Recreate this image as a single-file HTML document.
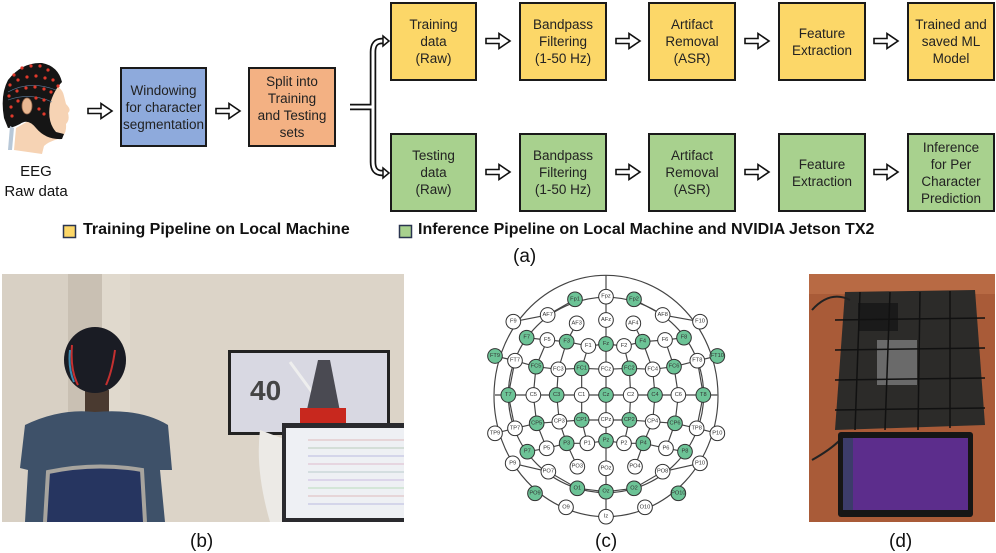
<!DOCTYPE html>
<html><head><meta charset="utf-8"><style>
body{margin:0;width:996px;height:552px;background:#fff;position:relative;overflow:hidden;font-family:"Liberation Sans",Arial,sans-serif;}
.b{position:absolute;border:2px solid #1a1a1a;box-sizing:border-box;display:flex;align-items:center;justify-content:center;text-align:center;font-size:13.5px;line-height:17px;color:#222;}
.y{background:#fcd768}.g{background:#a8d18e}
.t{position:absolute;white-space:nowrap;color:#111}
</style></head><body>

<div class="b" style="left:120px;top:67px;width:87px;height:80px;background:#8eaadc">Windowing<br>for character<br>segmentation</div>
<div class="b" style="left:248px;top:67px;width:88px;height:80px;background:#f3b183">Split into<br>Training<br>and Testing<br>sets</div>

<div class="b y" style="left:390px;top:2px;width:87px;height:79px">Training<br>data<br>(Raw)</div>
<div class="b y" style="left:519px;top:2px;width:88px;height:79px">Bandpass<br>Filtering<br>(1-50 Hz)</div>
<div class="b y" style="left:648px;top:2px;width:88px;height:79px">Artifact<br>Removal<br>(ASR)</div>
<div class="b y" style="left:778px;top:2px;width:88px;height:79px">Feature<br>Extraction</div>
<div class="b y" style="left:907px;top:2px;width:88px;height:79px">Trained and<br>saved ML<br>Model</div>

<div class="b g" style="left:390px;top:133px;width:87px;height:79px">Testing<br>data<br>(Raw)</div>
<div class="b g" style="left:519px;top:133px;width:88px;height:79px">Bandpass<br>Filtering<br>(1-50 Hz)</div>
<div class="b g" style="left:648px;top:133px;width:88px;height:79px">Artifact<br>Removal<br>(ASR)</div>
<div class="b g" style="left:778px;top:133px;width:88px;height:79px">Feature<br>Extraction</div>
<div class="b g" style="left:907px;top:133px;width:88px;height:79px">Inference<br>for Per<br>Character<br>Prediction</div>

<svg style="position:absolute;left:0;top:0" width="996" height="270">
<defs><path id="ar" d="M0,-2.5 h13 v-5 l11,7.5 l-11,7.5 v-5 h-13 z" fill="#fff" stroke="#111" stroke-width="1.6"/></defs>
<use href="#ar" x="88" y="111"/><use href="#ar" x="216" y="111"/>
<use href="#ar" x="486" y="41"/><use href="#ar" x="616" y="41"/><use href="#ar" x="745" y="41"/><use href="#ar" x="874" y="41"/>
<use href="#ar" x="486" y="172"/><use href="#ar" x="616" y="172"/><use href="#ar" x="745" y="172"/><use href="#ar" x="874" y="172"/>
<path d="M350,107 H373 M373,52 V162 M373,52 Q373,41 382,41 H384 M373,162 Q373,173 382,173 H384" fill="none" stroke="#111" stroke-width="6.5"/>
<path d="M350,107 H373 M373,52 V162 M373,52 Q373,41 382,41 H384 M373,162 Q373,173 382,173 H384" fill="none" stroke="#fff" stroke-width="3"/>
<path d="M383,36 l6,5 l-6,5 z M383,168 l6,5 l-6,5 z" fill="#fff" stroke="#111" stroke-width="1.5"/>
<!-- head -->
<path d="M14,150 L16,128 L30,120 L50,84 Q62,86 64,96 L66,104 Q72,110 68,113 Q70,120 66,124 Q67,136 58,139 Q48,142 44,146 L42,154 Z" fill="#f6d3b4"/>
<path d="M4,118 Q0,95 8,80 Q22,62 42,63 Q58,66 62,82 Q54,90 50,104 Q47,122 56,132 L64,134 L62,139 Q46,140 36,128 Q28,118 20,124 Q12,128 8,128 Z" fill="#151515"/>
<ellipse cx="27" cy="106" rx="5" ry="8" fill="#e9b892" stroke="#9c6b4f" stroke-width="0.8"/>
<g stroke="#5a7a9a" stroke-width="0.6" fill="none">
<path d="M8,92 Q30,80 56,90"/><path d="M8,100 Q30,92 52,102"/>
</g>
<g fill="#e0392b">
<circle cx="14" cy="75" r="1.6"/><circle cx="22" cy="68" r="1.6"/><circle cx="31" cy="66" r="1.6"/><circle cx="40" cy="66" r="1.6"/><circle cx="48" cy="70" r="1.6"/>
<circle cx="10" cy="85" r="1.6"/><circle cx="18" cy="80" r="1.6"/><circle cx="27" cy="77" r="1.6"/><circle cx="36" cy="76" r="1.6"/><circle cx="45" cy="78" r="1.6"/><circle cx="53" cy="80" r="1.6"/>
<circle cx="9" cy="96" r="1.6"/><circle cx="17" cy="91" r="1.6"/><circle cx="26" cy="88" r="1.6"/><circle cx="35" cy="87" r="1.6"/><circle cx="44" cy="89" r="1.6"/><circle cx="51" cy="92" r="1.6"/><circle cx="58" cy="86" r="1.6"/>
<circle cx="11" cy="107" r="1.6"/><circle cx="18" cy="101" r="1.6"/><circle cx="36" cy="98" r="1.6"/><circle cx="44" cy="100" r="1.6"/>
<circle cx="39" cy="109" r="1.6"/><circle cx="44" cy="114" r="1.6"/><circle cx="12" cy="116" r="1.6"/>
</g>
<path d="M10,126 L8,150 L12,150 L14,128 Z" fill="#b8c8d8"/>
<rect x="63.5" y="225.5" width="12" height="12" fill="#fcd768" stroke="#2a3550" stroke-width="1.5"/>
<rect x="399.5" y="225.5" width="12" height="12" fill="#a8d18e" stroke="#2a3550" stroke-width="1.5"/>
</svg>

<div class="t" style="left:0;width:72px;top:162px;text-align:center;font-size:15px;line-height:20px">EEG<br>Raw data</div>
<div class="t" style="left:83px;top:221px;font-size:16px;font-weight:bold">Training Pipeline on Local Machine</div>
<div class="t" style="left:418px;top:221px;font-size:16px;font-weight:bold">Inference Pipeline on Local Machine and NVIDIA Jetson TX2</div>
<div class="t" style="left:513px;top:246px;font-size:19px">(a)</div>

<!-- photo b -->
<svg style="position:absolute;left:0;top:0" width="410" height="530">
<rect x="2" y="274" width="402" height="248" fill="#dcd4c8"/>
<rect x="2" y="274" width="66" height="248" fill="#d8d0c4"/>
<rect x="68" y="274" width="34" height="248" fill="#c9c0b3"/>
<rect x="102" y="274" width="28" height="248" fill="#e0d9cd"/>
<rect x="85" y="390" width="24" height="30" fill="#4a3a30"/>
<ellipse cx="95" cy="360" rx="31" ry="33" fill="#1a1c24"/>
<path d="M72,345 Q70,370 78,385 M115,350 Q112,372 106,385" stroke="#c43030" stroke-width="2" fill="none"/>
<path d="M70,350 Q68,368 74,382" stroke="#3a8ab0" stroke-width="2" fill="none"/>
<path d="M25,425 Q60,408 95,412 Q140,408 168,425 L172,470 L160,470 L165,522 L25,522 L28,470 L20,468 Z" fill="#3e5169"/>
<path d="M45,522 L48,472 Q95,462 142,470 L145,522" fill="#263560" stroke="#a7a49e" stroke-width="4"/>
<rect x="228" y="350" width="162" height="85" fill="#222"/>
<rect x="231" y="353" width="156" height="79" fill="#d8d8e2"/>
<text x="250" y="400" font-family="Liberation Sans" font-weight="bold" font-size="28" fill="#444">40</text>
<line x1="290" y1="362" x2="312" y2="392" stroke="#eee" stroke-width="3"/>
<path d="M302,432 L318,360 L330,360 L344,432 Z" fill="#4a4a52"/>
<rect x="300" y="408" width="46" height="24" fill="#c8281e"/>
<path d="M260,430 Q255,470 270,522 L300,522 L300,445 Z" fill="#eceae6"/>
<rect x="282" y="423" width="122" height="99" fill="#2a2a2e"/>
<rect x="286" y="428" width="118" height="90" fill="#eef0f4"/>
<g stroke-width="0.8" opacity="0.7">
<line x1="308" y1="440" x2="404" y2="440" stroke="#c88"/><line x1="308" y1="448" x2="404" y2="448" stroke="#8a8"/>
<line x1="308" y1="456" x2="404" y2="456" stroke="#88c"/><line x1="308" y1="464" x2="404" y2="464" stroke="#c8a"/>
<line x1="308" y1="472" x2="404" y2="472" stroke="#8aa"/><line x1="308" y1="480" x2="404" y2="480" stroke="#a8c"/>
<line x1="308" y1="488" x2="404" y2="488" stroke="#8c8"/><line x1="308" y1="496" x2="404" y2="496" stroke="#c88"/>
<line x1="308" y1="504" x2="404" y2="504" stroke="#88c"/>
</g>
</svg>

<!-- electrode map -->
<svg style="position:absolute;left:470px;top:270px" width="280" height="260" viewBox="0 0 840 780">
<g fill="none" stroke="#444" stroke-width="3.5">
<ellipse cx="408" cy="378" rx="336" ry="362"/>
<circle cx="408" cy="375" r="293"/>
<line x1="408" y1="16" x2="408" y2="740"/>
<line x1="75" y1="375" x2="742" y2="375"/>
<polyline points="130,155 233,135 315,88"/><polyline points="492,88 578,135 690,155"/>
<polyline points="75,258 135,272 198,290 265,298 335,295 408,298 478,295 548,298 612,290 682,272 742,258"/>
<polyline points="75,490 135,475 200,460 268,455 335,450 408,450 478,450 548,455 615,460 680,475 742,490"/>
<polyline points="170,203 232,210 290,215 355,228 408,222 462,228 518,215 585,210 642,203"/>
<polyline points="172,545 230,535 290,520 352,520 408,512 462,520 520,520 588,535 645,545"/>
<polyline points="128,580 235,605 322,655 408,665 492,655 578,605 690,580"/>
<polyline points="320,160 290,215 265,298 260,375 268,455 290,520 322,590"/>
<polyline points="490,160 518,215 548,298 555,375 548,455 520,520 495,590"/>
<polyline points="355,228 335,295 335,375 335,450 352,520"/>
<polyline points="462,228 478,295 482,375 478,450 462,520"/>
<polyline points="232,210 198,290 190,375 200,460 230,535"/>
<polyline points="585,210 612,290 625,375 615,460 588,535"/>
<polyline points="135,272 115,375 135,475"/><polyline points="682,272 700,375 680,475"/>
</g>
<g stroke="#333" stroke-width="3">
<g fill="#fff">
<circle cx="408" cy="80" r="22"/><circle cx="233" cy="135" r="22"/><circle cx="408" cy="150" r="22"/><circle cx="578" cy="135" r="22"/><circle cx="320" cy="160" r="22"/><circle cx="490" cy="160" r="22"/>
<circle cx="130" cy="155" r="22"/><circle cx="232" cy="210" r="22"/><circle cx="355" cy="228" r="22"/><circle cx="462" cy="228" r="22"/><circle cx="585" cy="210" r="22"/><circle cx="690" cy="155" r="22"/>
<circle cx="135" cy="272" r="22"/><circle cx="265" cy="298" r="22"/><circle cx="408" cy="298" r="22"/><circle cx="548" cy="298" r="22"/><circle cx="682" cy="272" r="22"/>
<circle cx="190" cy="375" r="22"/><circle cx="335" cy="375" r="22"/><circle cx="482" cy="375" r="22"/><circle cx="625" cy="375" r="22"/>
<circle cx="75" cy="490" r="22"/><circle cx="135" cy="475" r="22"/><circle cx="268" cy="455" r="22"/><circle cx="408" cy="450" r="22"/><circle cx="548" cy="455" r="22"/><circle cx="680" cy="475" r="22"/><circle cx="742" cy="490" r="22"/>
<circle cx="230" cy="535" r="22"/><circle cx="352" cy="520" r="22"/><circle cx="462" cy="520" r="22"/><circle cx="588" cy="535" r="22"/>
<circle cx="128" cy="580" r="22"/><circle cx="235" cy="605" r="22"/><circle cx="322" cy="590" r="22"/><circle cx="408" cy="595" r="22"/><circle cx="495" cy="590" r="22"/><circle cx="578" cy="605" r="22"/><circle cx="690" cy="580" r="22"/>
<circle cx="288" cy="712" r="22"/><circle cx="408" cy="740" r="22"/><circle cx="525" cy="712" r="22"/>
</g>
<g fill="#6cc396">
<circle cx="315" cy="88" r="22"/><circle cx="492" cy="88" r="22"/>
<circle cx="170" cy="203" r="22"/><circle cx="290" cy="215" r="22"/><circle cx="408" cy="222" r="22"/><circle cx="518" cy="215" r="22"/><circle cx="642" cy="203" r="22"/>
<circle cx="75" cy="258" r="22"/><circle cx="198" cy="290" r="22"/><circle cx="335" cy="295" r="22"/><circle cx="478" cy="295" r="22"/><circle cx="612" cy="290" r="22"/><circle cx="742" cy="258" r="22"/>
<circle cx="115" cy="375" r="22"/><circle cx="260" cy="375" r="22"/><circle cx="408" cy="375" r="22"/><circle cx="555" cy="375" r="22"/><circle cx="700" cy="375" r="22"/>
<circle cx="200" cy="460" r="22"/><circle cx="335" cy="450" r="22"/><circle cx="478" cy="450" r="22"/><circle cx="615" cy="460" r="22"/>
<circle cx="172" cy="545" r="22"/><circle cx="290" cy="520" r="22"/><circle cx="408" cy="512" r="22"/><circle cx="520" cy="520" r="22"/><circle cx="645" cy="545" r="22"/>
<circle cx="195" cy="670" r="22"/><circle cx="322" cy="655" r="22"/><circle cx="408" cy="665" r="22"/><circle cx="492" cy="655" r="22"/><circle cx="625" cy="670" r="22"/>
</g>
</g>
<g font-family="Liberation Sans" font-size="17" fill="#333" text-anchor="middle" dominant-baseline="central">
<text x="315" y="88">Fp1</text><text x="408" y="80">Fpz</text><text x="492" y="88">Fp2</text>
<text x="233" y="135">AF7</text><text x="408" y="150">AFz</text><text x="578" y="135">AF8</text><text x="320" y="160">AF3</text><text x="490" y="160">AF4</text>
<text x="130" y="155">F9</text><text x="170" y="203">F7</text><text x="232" y="210">F5</text><text x="290" y="215">F3</text><text x="355" y="228">F1</text><text x="408" y="222">Fz</text><text x="462" y="228">F2</text><text x="518" y="215">F4</text><text x="585" y="210">F6</text><text x="642" y="203">F8</text><text x="690" y="155">F10</text>
<text x="75" y="258">FT9</text><text x="135" y="272">FT7</text><text x="198" y="290">FC5</text><text x="265" y="298">FC3</text><text x="335" y="295">FC1</text><text x="408" y="298">FCz</text><text x="478" y="295">FC2</text><text x="548" y="298">FC4</text><text x="612" y="290">FC6</text><text x="682" y="272">FT8</text><text x="742" y="258">FT10</text>
<text x="115" y="375">T7</text><text x="190" y="375">C5</text><text x="260" y="375">C3</text><text x="335" y="375">C1</text><text x="408" y="375">Cz</text><text x="482" y="375">C2</text><text x="555" y="375">C4</text><text x="625" y="375">C6</text><text x="700" y="375">T8</text>
<text x="75" y="490">TP9</text><text x="135" y="475">TP7</text><text x="200" y="460">CP5</text><text x="268" y="455">CP3</text><text x="335" y="450">CP1</text><text x="408" y="450">CPz</text><text x="478" y="450">CP2</text><text x="548" y="455">CP4</text><text x="615" y="460">CP6</text><text x="680" y="475">TP8</text><text x="742" y="490">P10</text>
<text x="172" y="545">P7</text><text x="230" y="535">P5</text><text x="290" y="520">P3</text><text x="352" y="520">P1</text><text x="408" y="512">Pz</text><text x="462" y="520">P2</text><text x="520" y="520">P4</text><text x="588" y="535">P6</text><text x="645" y="545">P8</text>
<text x="128" y="580">P9</text><text x="235" y="605">PO7</text><text x="322" y="590">PO3</text><text x="408" y="595">POz</text><text x="495" y="590">PO4</text><text x="578" y="605">PO8</text><text x="690" y="580">P10</text>
<text x="195" y="670">PO9</text><text x="322" y="655">O1</text><text x="408" y="665">Oz</text><text x="492" y="655">O2</text><text x="625" y="670">PO10</text>
<text x="288" y="712">O9</text><text x="408" y="740">Iz</text><text x="525" y="712">O10</text>
</g>
</svg>

<!-- photo d -->
<svg style="position:absolute;left:0;top:0" width="996" height="530">
<rect x="809" y="274" width="186" height="248" fill="#a95b38"/>
<rect x="809" y="274" width="186" height="20" fill="#b86a44"/>
<path d="M845,292 L975,290 L985,425 L835,430 Z" fill="#2c2b29"/>
<rect x="858" y="303" width="40" height="28" fill="#1a1a1a"/>
<rect x="877" y="340" width="40" height="45" fill="#6a6a6a"/>
<g stroke="#111" stroke-width="1.5" fill="none">
<line x1="835" y1="320" x2="985" y2="318"/><line x1="835" y1="350" x2="985" y2="348"/><line x1="835" y1="380" x2="985" y2="378"/><line x1="835" y1="410" x2="985" y2="408"/>
<line x1="860" y1="292" x2="855" y2="430"/><line x1="890" y1="292" x2="885" y2="430"/><line x1="920" y1="292" x2="918" y2="430"/><line x1="950" y1="291" x2="950" y2="428"/>
</g>
<path d="M812,310 Q830,290 850,300 M812,460 Q830,450 840,440" stroke="#222" stroke-width="2" fill="none"/>
<rect x="838" y="432" width="135" height="85" rx="3" fill="#161616"/>
<rect x="843" y="438" width="125" height="72" fill="#5c2d8c"/>
<rect x="843" y="438" width="10" height="72" fill="#3c3c6a"/>
</svg>

<div class="t" style="left:190px;top:531px;font-size:19px">(b)</div>
<div class="t" style="left:595px;top:531px;font-size:19px">(c)</div>
<div class="t" style="left:889px;top:531px;font-size:19px">(d)</div>
</body></html>
